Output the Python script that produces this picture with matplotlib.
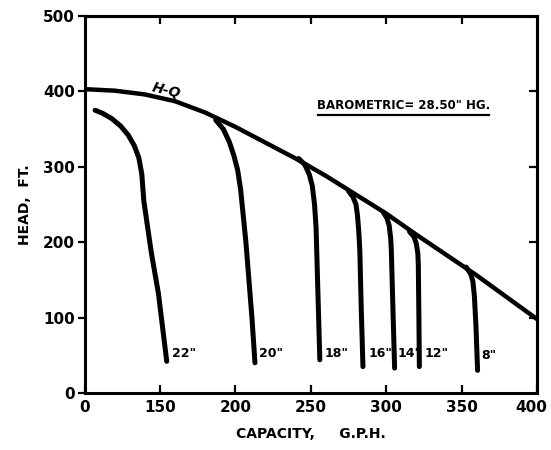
import numpy as np
import matplotlib
matplotlib.use("Agg")
import matplotlib.pyplot as plt
import matplotlib.transforms as mtransforms

### Values (capacity in G.P.H., head in ft)

# The capacity axis is broken: its left edge is 100 G.P.H. but is labelled 0
x_ticks = [100, 150, 200, 250, 300, 350, 400]
x_tick_labels = ["0", "150", "200", "250", "300", "350", "400"]
y_ticks = [0, 100, 200, 300, 400, 500]
y_tick_labels = ["0", "100", "200", "300", "400", "500"]

# Pump H-Q curve
hq_cap = [100, 120, 140, 160, 180, 200, 220, 240, 260, 280, 300, 320, 340, 360, 380, 400]
hq_head = [403, 401, 396, 387, 372, 353, 332, 311, 288, 263, 238, 210, 183, 156, 127, 98]

# Suction lift curves, one per inch of vacuum
lift_labels = ['22"', '20"', '18"', '16"', '14"', '12"', '8"']
lift_cap = [
   [107, 112, 118, 124, 129, 133, 136, 138, 139.3, 144.3, 149, 154.5],
   [187, 192, 196, 199, 201.5, 203.5, 205, 207, 209, 211, 213],
   [242, 246, 249, 251, 252.5, 253.5, 254.5, 256],
   [275, 278, 280, 281, 281.8, 282.5, 283.5, 284.6],
   [298, 300.5, 302, 303, 303.4, 304.5, 305.6],
   [315.5, 318.5, 320, 321, 321.3, 321.7, 322],
   [353, 356, 357.5, 358.5, 359.5, 360.6],
]
lift_head = [
   [375, 371, 364, 354, 342, 328, 312, 290, 255, 186, 132, 42],
   [362, 350, 333, 315, 296, 270, 240, 200, 150, 100, 40],
   [311, 303, 290, 275, 250, 220, 150, 44],
   [268, 260, 250, 235, 215, 190, 110, 35],
   [240, 232, 222, 205, 190, 110, 33],
   [214, 207, 198, 185, 170, 100, 35],
   [167, 158, 148, 128, 90, 30],
]
# where the label for each curve sits (left edge, middle height)
label_cap = [158, 216, 259, 288, 307.5, 325.5, 363]
label_head = [52, 52, 52, 52, 52, 52, 50]

### Drawing

fig = plt.figure(figsize=(5.51, 4.5), dpi=100)
ax = fig.add_axes([0.1534, 0.1267, 0.8212, 0.8377])

ax.plot(hq_cap, hq_head, color="black", lw=3.2, solid_capstyle="round")
for cap, head in zip(lift_cap, lift_head):
   ax.plot(cap, head, color="black", lw=3.6, solid_capstyle="round",
           solid_joinstyle="round")

for lab, xc, yc in zip(lift_labels, label_cap, label_head):
   ax.text(xc, yc, lab, fontsize=9, fontweight="bold", ha="left", va="center")

ax.text(154, 401, "H-Q", fontsize=10, fontweight="bold", fontstyle="italic",
        rotation=-14, ha="center", va="center")
ax.text(311.6, 381, 'BAROMETRIC= 28.50" HG.', fontsize=8.5, fontweight="bold",
        ha="center", va="center")
ax.plot([254.6, 368.5], [369, 369], color="black", lw=1.6)

ax.set_xlim(100, 400)
ax.set_ylim(0, 500)

ax.set_xticks(x_ticks)
ax.set_xticklabels(x_tick_labels, fontsize=11, fontweight="bold")
ax.set_yticks(y_ticks)
ax.set_yticklabels(y_tick_labels, fontsize=11, fontweight="bold")
ax.tick_params(axis="x", direction="in", length=6, width=1.6, pad=5)
ax.tick_params(axis="y", direction="out", length=5, width=1.6, pad=2)

# the last capacity label sits at the very edge of the page, pull it in a bit
last = ax.get_xticklabels()[-1]
last.set_transform(last.get_transform() +
                   mtransforms.ScaledTranslation(-4 / 72, 0, fig.dpi_scale_trans))

# inward ticks on the top and right frame
top = ax.secondary_xaxis("top")
top.set_xticks(x_ticks[1:-1])
top.tick_params(direction="in", length=6, width=1.6, labeltop=False)
right = ax.secondary_yaxis("right")
right.set_yticks(y_ticks[1:-1])
right.tick_params(direction="in", length=6, width=1.6, labelright=False)
for a in (ax, top, right):
   for s in a.spines.values():
      s.set_linewidth(2.2)

ax.set_xlabel("CAPACITY,     G.P.H.", fontsize=10, fontweight="bold", labelpad=9)
ax.set_ylabel("HEAD,  FT.", fontsize=10, fontweight="bold", labelpad=8)

fig.savefig("out.png", dpi=100)
